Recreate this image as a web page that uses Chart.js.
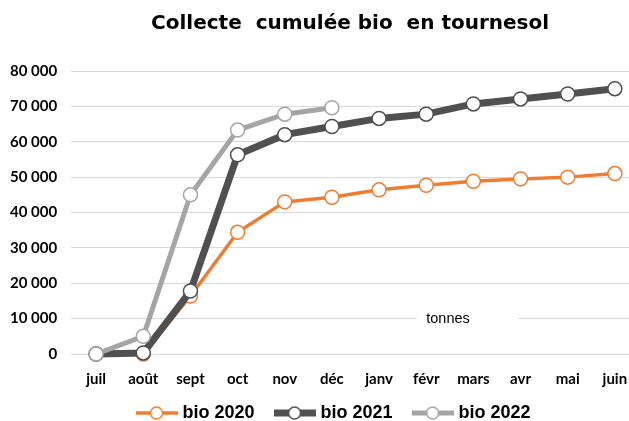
<!DOCTYPE html>
<html>
<head>
<meta charset="utf-8">
<script src="https://cdn.jsdelivr.net/npm/chart.js@4.4.0/dist/chart.umd.min.js"></script>
<style>
  html, body { margin: 0; padding: 0; background: #fff; }
  #wrap { width: 629px; height: 421px; }
</style>
</head>
<body>
<div id="wrap"><canvas id="chart"></canvas></div>
<script>
const months = ["juil", "août", "sept", "oct", "nov", "déc", "janv", "févr", "mars", "avr", "mai", "juin"];
const bio2020 = [0, 0, 16400, 34400, 43000, 44300, 46400, 47700, 48800, 49500, 50000, 51000];
const bio2021 = [0, 300, 17800, 56300, 62000, 64300, 66600, 67800, 70700, 72100, 73500, 75000];
const bio2022 = [0, 5000, 45000, 63300, 67800, 69600];
const yTicks = [0, 10000, 20000, 30000, 40000, 50000, 60000, 70000, 80000];

const FONT = "'Liberation Sans', Arial, sans-serif";
const TICK_FONT = "Lato, 'Liberation Sans', sans-serif";

// turn a list of values into {x, y} points on the month index
function toPoints(values) {
  return values.map((v, i) => ({ x: i, y: v }));
}

// legend icon: short line with a white circle in the middle
function legendIcon(color, lineWidth) {
  const c = document.createElement("canvas");
  c.width = 42;
  c.height = 16;
  const ctx = c.getContext("2d");
  ctx.strokeStyle = color;
  ctx.lineWidth = lineWidth;
  ctx.beginPath();
  ctx.moveTo(0, 8);
  ctx.lineTo(42, 8);
  ctx.stroke();
  ctx.beginPath();
  ctx.arc(21, 8, 6, 0, Math.PI * 2);
  ctx.fillStyle = "#fff";
  ctx.fill();
  ctx.lineWidth = 1.5;
  ctx.stroke();
  return c;
}

function fmt(v) {
  return String(v).replace(/\B(?=(\d{3})+(?!\d))/g, " ");
}

const tonnesLabel = {
  id: "tonnesLabel",
  afterDatasetsDraw(chart) {
    const { ctx, scales } = chart;
    const x0 = scales.x.getPixelForValue(6.8);
    const x1 = scales.x.getPixelForValue(8.95);
    const y = scales.y.getPixelForValue(10000);
    ctx.save();
    ctx.fillStyle = "#fff";
    ctx.fillRect(x0, y - 8, x1 - x0, 16);
    ctx.fillStyle = "#000";
    ctx.font = "14.5px " + FONT;
    ctx.textAlign = "left";
    ctx.textBaseline = "middle";
    ctx.fillText("tonnes", scales.x.getPixelForValue(7), y);
    ctx.restore();
  }
};

const series = [
  { label: "bio 2020", values: bio2020, color: "#ED7D31", width: 3.5, order: 3 },
  { label: "bio 2021", values: bio2021, color: "#505050", width: 7, order: 2 },
  { label: "bio 2022", values: bio2022, color: "#A5A5A5", width: 5, order: 1 }
];

new Chart(document.getElementById("chart"), {
  type: "line",
  data: {
    datasets: series.map((s) => ({
      label: s.label,
      data: toPoints(s.values),
      borderColor: s.color,
      borderWidth: s.width,
      backgroundColor: "#fff",
      pointBackgroundColor: "#fff",
      pointBorderColor: s.color,
      pointBorderWidth: 1.5,
      pointRadius: 7,
      tension: 0,
      order: s.order,
      clip: false,
      icon: legendIcon(s.color, s.width)
    }))
  },
  options: {
    responsive: true,
    maintainAspectRatio: false,
    animation: false,
    layout: { autoPadding: false, padding: { left: -4, right: 0, top: 4, bottom: -11 } },
    plugins: {
      title: {
        display: true,
        text: "Collecte  cumulée bio  en tournesol",
        color: "#000",
        font: { family: "'DejaVu Sans', sans-serif", size: 20, weight: "bold" },
        padding: { top: 8, bottom: 35 },
        fullSize: false
      },
      legend: {
        position: "bottom",
        fullSize: false,
        labels: {
          usePointStyle: true,
          pointStyleWidth: 34,
          boxHeight: 16,
          padding: 8,
          color: "#000",
          font: { family: FONT, size: 18, weight: "bold" },
          generateLabels(chart) {
            const n = chart.data.datasets.length;
            return chart.data.datasets.map((ds, i) => ({
              text: i < n - 1 ? ds.label + "   " : ds.label + "      ",
              pointStyle: ds.icon,
              fillStyle: ds.borderColor,
              strokeStyle: ds.borderColor,
              lineWidth: 0,
              hidden: false,
              datasetIndex: i
            }));
          }
        }
      },
      tooltip: { enabled: false }
    },
    scales: {
      x: {
        type: "linear",
        min: -0.53,
        max: 11.3,
        grid: { display: false },
        border: { display: false },
        afterFit(scale) {
          // let the plot run to the right edge like the original
          scale.paddingLeft = 0;
          scale.paddingRight = 0;
        },
        ticks: {
          stepSize: 1,
          includeBounds: false,
          autoSkip: false,
          maxRotation: 0,
          color: "#000",
          padding: 8,
          font: { family: TICK_FONT, size: 15, weight: "bold" },
          callback: (v) => months[v] ?? ""
        }
      },
      y: {
        min: yTicks[0],
        max: yTicks[yTicks.length - 1],
        grid: { color: "#d9d9d9", lineWidth: 1, drawTicks: false },
        border: { display: false },
        ticks: {
          stepSize: 10000,
          color: "#000",
          padding: 14,
          font: { family: TICK_FONT, size: 15, weight: "bold" },
          callback: (v) => fmt(v)
        }
      }
    }
  },
  plugins: [tonnesLabel]
});
</script>
</body>
</html>
